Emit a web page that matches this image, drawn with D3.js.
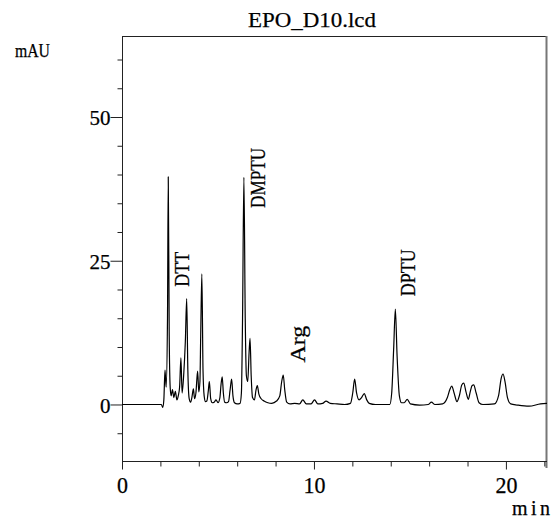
<!DOCTYPE html>
<html>
<head>
<meta charset="utf-8">
<script src="https://cdn.jsdelivr.net/npm/d3@7"></script>
<style>
  html, body { margin: 0; padding: 0; background: #fff; }
  svg { display: block; }
  svg text { font-family: "Liberation Serif", "DejaVu Serif", serif; fill: #000; stroke: #000; stroke-width: 0.25px; }
</style>
</head>
<body>
<svg id="chart" width="557" height="524"></svg>
<script>
// Chromatogram trace: retention time (min) and absorbance (mAU)
const timeMin = [
  0, 2.05, 2.12, 2.18, 2.24, 2.30, 2.37, 2.41, 2.46, 2.51, 2.56, 2.63, 2.70, 2.78, 2.86, 2.93,
  3.00, 3.07, 3.13, 3.22, 3.30, 3.37, 3.43, 3.50, 3.57, 3.64, 3.72, 3.78, 3.85, 3.94, 4.00,
  4.06, 4.10, 4.16, 4.22, 4.28, 4.35, 4.42, 4.50, 4.55, 4.62, 4.70, 4.80, 4.90, 5.00, 5.10,
  5.16, 5.22, 5.28, 5.35, 5.45, 5.55, 5.63, 5.71, 5.78, 5.86, 6.00, 6.15, 6.22, 6.28, 6.35,
  6.42, 6.48, 6.55, 6.62, 6.67, 6.73, 6.80, 6.90, 6.98, 7.05, 7.13, 7.25, 7.40, 7.60, 7.80,
  8.05, 8.22, 8.32, 8.40, 8.48, 8.58, 8.75, 9.00, 9.25, 9.42, 9.60, 9.85, 10.03, 10.20, 10.45,
  10.63, 10.85, 11.20, 11.60, 11.90, 12.02, 12.12, 12.22, 12.35, 12.48, 12.62, 12.75, 12.88,
  13.20, 13.95, 14.05, 14.15, 14.24, 14.33, 14.45, 14.56, 14.70, 14.86, 15.02, 15.50, 15.95,
  16.12, 16.30, 16.70, 16.95, 17.08, 17.18, 17.30, 17.45, 17.58, 17.70, 17.80, 17.92, 18.04,
  18.14, 18.24, 18.32, 18.45, 18.60, 18.80, 19.40, 19.62, 19.75, 19.85, 19.95, 20.08, 20.25,
  20.60, 21.20, 21.80, 22.14
];
const absorbance = [
  0, 0, -0.5, 0.8, 6.0, 3.0, 15, 39.6, 12, 3.0, 1.5, 2.6, 1.2, 2.3, 0.8, 1.5,
  3.0, 8.1, 2.0, 5.5, 11, 18.4, 6, 1.0, 0.4, 1.2, 2.7, 1.0, 2.0, 5.8, 2.2,
  4.0, 12, 22.7, 6, 1.5, 0.5, 0.6, 2.5, 4.0, 1.0, 0.3, 0.4, 0.8, 0.3, 1.2,
  3.5, 4.8, 2.0, 0.4, 0.3, 0.5, 2.5, 4.4, 1.5, 0.3, 0.1, 0.2, 2.0, 15, 39.5,
  15, 5, 4, 9, 11.5, 5, 1.2, 0.8, 2.5, 3.3, 1.8, 1.0, 0.6, 0.3, 0.2,
  0.6, 1.5, 4.0, 5.1, 2.5, 0.4, 0.1, 0.2, 0.1, 0.8, 0.1, 0.1, 0.8, 0.1, 0.2,
  0.6, 0.2, 0.1, 0.0, 0.2, 2.0, 4.4, 2.0, 0.8, 1.2, 1.9, 0.8, 0.2,
  0.0, 0.0, 2.0, 9.5, 16.6, 8.5, 1.5, 0.3, 0.3, 0.9, 0.1, -0.1, 0.0,
  0.4, 0.0, 0.1, 1.2, 2.6, 3.2, 2.0, 0.5, 1.6, 3.4, 3.7, 2.2, 0.9,
  2.2, 3.3, 3.4, 2.0, 0.3, 0.0, 0.1, 1.6, 4.5, 5.3, 4.0, 1.2, 0.1,
  -0.1, -0.3, 0.1, 0.2
];

// Peak annotations (label, time in min, label centre level in mAU)
const peakNames = ["DTT", "DMPTU", "Arg", "DPTU"];
const peakLabelTime = [3.15, 7.08, 9.17, 14.9];
const peakLabelLevel = [23.5, 39.4, 10.5, 22.9];

// Axis ticks
const xTickValues = [0, 2, 4, 6, 8, 10, 12, 14, 16, 18, 20, 22];
const xTickLabels = [0, 10, 20];
const yTickValues = [-5, 0, 5, 10, 15, 20, 25, 30, 35, 40, 45, 50, 55, 60];
const yTickLabels = [0, 25, 50];

const titleText = "EPO_D10.lcd";
const yUnit = "mAU";
const xUnit = "min";

const serif = '"Liberation Serif", "DejaVu Serif", serif';
const svg = d3.select("#chart");
const plotL = 122, plotR = 547, plotT = 36, plotB = 461;

const x = d3.scaleLinear().domain([0, 22.14]).range([plotL, plotR]);
const y = d3.scaleLinear().domain([-9.83, 64.09]).range([plotB, plotT]);

// frame (top and right edges)
svg.append("line").attr("x1", plotL).attr("x2", plotR).attr("y1", plotT + 0.5).attr("y2", plotT + 0.5)
  .attr("stroke", "#222").attr("stroke-width", 1);
svg.append("line").attr("x1", plotR - 0.5).attr("x2", plotR - 0.5).attr("y1", plotT).attr("y2", plotB + 7)
  .attr("stroke", "#777").attr("stroke-width", 2);

// x axis
const xAxis = d3.axisBottom(x)
  .tickValues(xTickValues)
  .tickSize(5)
  .tickFormat(d => xTickLabels.includes(d) ? d : "");
const gx = svg.append("g").attr("transform", `translate(0,${plotB + 0.5})`).call(xAxis);
gx.attr("font-family", serif);
gx.select(".domain").attr("stroke", "#222").attr("d", `M${plotL},0H${plotR}`);
gx.selectAll(".tick line").attr("stroke", "#222")
  .attr("y2", d => xTickLabels.includes(d) ? 8 : 5);
gx.selectAll(".tick text")
  .attr("y", 15).attr("dy", "0.71em")
  .style("font-size", "23px")
  .each(function(d) {
    if (xTickLabels.includes(d)) {
      const s = String(d);
      d3.select(this).attr("textLength", 11 * s.length).attr("lengthAdjust", "spacingAndGlyphs");
    }
  });

// y axis
const yAxis = d3.axisLeft(y)
  .tickValues(yTickValues)
  .tickSize(5)
  .tickFormat(d => yTickLabels.includes(d) ? d : "");
const gy = svg.append("g").attr("transform", `translate(${plotL + 0.5},0)`).call(yAxis);
gy.attr("font-family", serif);
gy.select(".domain").attr("stroke", "#222").attr("d", `M0,${plotT}V${plotB}`);
gy.selectAll(".tick line").attr("stroke", "#222")
  .attr("x2", d => yTickLabels.includes(d) ? -12 : -5);
gy.selectAll(".tick text")
  .attr("x", -12).attr("dy", "0.36em")
  .style("font-size", "21px")
  .each(function(d) {
    if (yTickLabels.includes(d)) {
      const s = String(d);
      d3.select(this).attr("textLength", 10.5 * s.length).attr("lengthAdjust", "spacingAndGlyphs");
    }
  });

// trace
const pts = timeMin.map((t, i) => [t, absorbance[i]]);
const line = d3.line()
  .x(d => x(d[0]))
  .y(d => y(d[1]))
  .curve(d3.curveMonotoneX);
svg.append("path")
  .datum(pts)
  .attr("fill", "none")
  .attr("stroke", "#000")
  .attr("stroke-width", 1.2)
  .attr("stroke-linejoin", "round")
  .attr("d", line);

// peak labels (rotated)
const labelLen = { "DTT": 35, "DMPTU": 60, "Arg": 37, "DPTU": 47 };
peakNames.forEach((name, i) => {
  const cx = x(peakLabelTime[i]), cy = y(peakLabelLevel[i]);
  svg.append("text")
    .attr("transform", `translate(${cx},${cy}) rotate(-90)`)
    .attr("text-anchor", "middle")
    .attr("dy", "0.33em")
    .attr("font-family", serif)
    .style("font-size", "21px")
    .attr("textLength", labelLen[name])
    .attr("lengthAdjust", "spacingAndGlyphs")
    .text(name);
});

// title and units
svg.append("text")
  .attr("x", 312).attr("y", 27)
  .attr("text-anchor", "middle")
  .attr("font-family", serif)
  .style("font-size", "22px")
  .attr("textLength", 128).attr("lengthAdjust", "spacingAndGlyphs")
  .text(titleText);
svg.append("text")
  .attr("x", 15).attr("y", 57)
  .attr("font-family", serif)
  .style("font-size", "19px")
  .attr("textLength", 35).attr("lengthAdjust", "spacingAndGlyphs")
  .text(yUnit);
svg.append("text")
  .attr("x", 512).attr("y", 515)
  .attr("font-family", serif)
  .style("font-size", "20px")
  .attr("textLength", 38).attr("lengthAdjust", "spacing")
  .text(xUnit);
</script>
</body>
</html>
